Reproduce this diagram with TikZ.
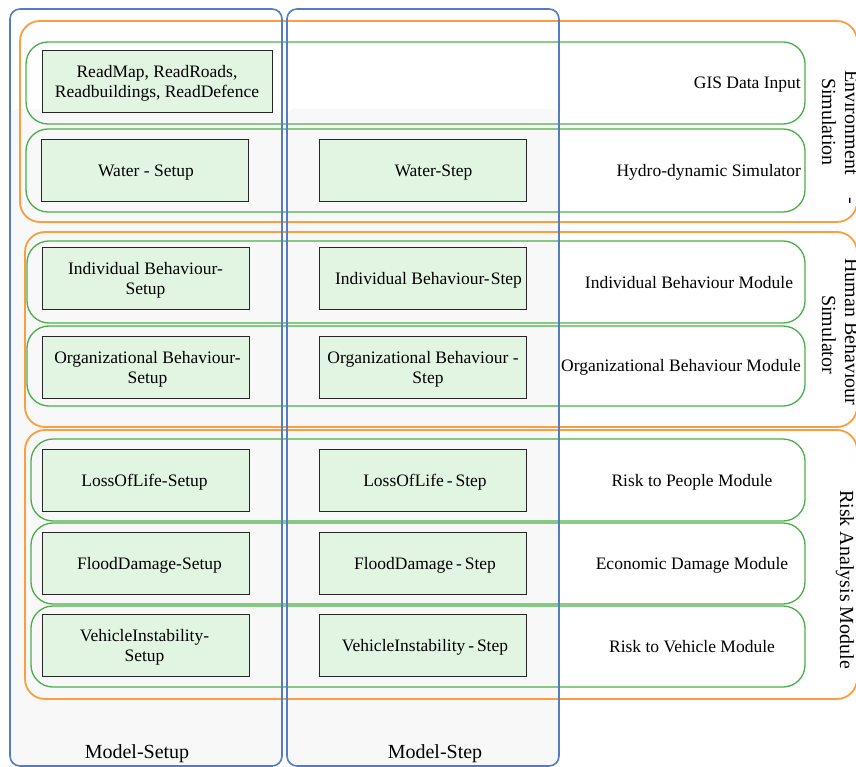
\documentclass[tikz,border=0pt]{standalone}
\usepackage{fontspec}
\setmainfont{Liberation Serif}
\definecolor{colblue}{RGB}{82,124,198}
\definecolor{grporange}{RGB}{250,158,64}
\definecolor{rowgreen}{RGB}{72,176,72}
\definecolor{boxfill}{RGB}{226,245,226}
\definecolor{colgrey}{RGB}{248,248,248}
\begin{document}
\begin{tikzpicture}[x=1pt,y=-1pt,
  bodyfont/.style={font=\fontsize{17.5}{20}\selectfont},
  sidefont/.style={font=\fontsize{20}{23}\selectfont},
  column/.style={draw=colblue,line width=1.6pt,rounded corners=10pt},
  group/.style={draw=grporange,line width=1.8pt,rounded corners=20pt},
  modrow/.style={draw=rowgreen,line width=1.3pt,rounded corners=22pt},
  fnbox/.style={draw=black!85,line width=0.9pt,fill=boxfill,inner sep=0pt,
    minimum width=207pt,minimum height=62pt},
  boxtext/.style={bodyfont,inner sep=0pt,align=center},
  rowlabel/.style={bodyfont,inner sep=0pt},
  sidelabel/.style={sidefont,inner sep=0pt,rotate=-90,anchor=base west},
  collabel/.style={sidefont,inner sep=0pt}]
\useasboundingbox (0,0) rectangle (856,767);

% column backgrounds
\fill[colgrey,rounded corners=8pt] (10,109) rectangle (282,766);
\fill[colgrey,rounded corners=8pt] (287,109) rectangle (559,766);

% module groups
\draw[group] (20,21) rectangle (857,222);
\draw[group] (25,232) rectangle (857,427);
\draw[group] (25,430) rectangle (857,699);

% module rows
\draw[modrow] (26,42) rectangle (805,124);
\draw[modrow] (26,129) rectangle (805,212);
\draw[modrow] (27,241) rectangle (805,323);
\draw[modrow] (27,326) rectangle (805,406);
\draw[modrow] (31,439) rectangle (805,521);
\draw[modrow] (31,523) rectangle (805,604);
\draw[modrow] (31,606) rectangle (805,687);

% setup and step columns
\draw[column] (10,9) rectangle (282,766);
\draw[column] (287,9) rectangle (559,766);

% function boxes
\node[fnbox,minimum width=230pt] (readmap) at (157,81) {};
\node[fnbox] (watersetup) at (144.5,170) {};
\node[fnbox] (waterstep) at (422.5,170) {};
\node[fnbox] (indsetup) at (145.5,278) {};
\node[fnbox] (indstep) at (423,278) {};
\node[fnbox] (orgsetup) at (145.5,367) {};
\node[fnbox] (orgstep) at (423,367) {};
\node[fnbox] (losssetup) at (145.5,480) {};
\node[fnbox] (lossstep) at (423,480) {};
\node[fnbox] (floodsetup) at (145.5,563) {};
\node[fnbox] (floodstep) at (423,563) {};
\node[fnbox] (vehsetup) at (145.5,645) {};
\node[fnbox] (vehstep) at (423,645) {};

% box texts, set slightly below the box centres
\node[boxtext] (readmap-t) at ([yshift=-2.5pt]readmap.center) {ReadMap, ReadRoads,\\Readbuildings, ReadDefence};
\node[boxtext] (watersetup-t) at ([xshift=1.5pt,yshift=-2.5pt]watersetup.center) {Water - Setup};
\node[boxtext] (waterstep-t) at ([xshift=11pt,yshift=-2.5pt]waterstep.center) {Water-Step};
\node[boxtext] (indsetup-t) at ([yshift=-2.5pt]indsetup.center) {Individual Behaviour-\\Setup};
\node[boxtext] (indstep-t) at ([xshift=5.5pt,yshift=-2.5pt]indstep.center) {Individual Behaviour-{\kern1pt}Step};
\node[boxtext] (orgsetup-t) at ([xshift=2pt,yshift=-2.5pt]orgsetup.center) {Organizational Behaviour-\\Setup};
\node[boxtext] (orgstep-t) at ([yshift=-2.5pt]orgstep.center) {Organizational Behaviour -\\\hspace*{10pt}Step};
\node[boxtext] (losssetup-t) at ([xshift=-1pt,yshift=-2.5pt]losssetup.center) {LossOfLife-Setup};
\node[boxtext] (lossstep-t) at ([xshift=2pt,yshift=-2.5pt]lossstep.center) {LossOfLife\,-\,Step};
\node[boxtext] (floodsetup-t) at ([xshift=4pt,yshift=-2.5pt]floodsetup.center) {FloodDamage-Setup};
\node[boxtext] (floodstep-t) at ([xshift=2pt,yshift=-2.5pt]floodstep.center) {FloodDamage\,-\,Step};
\node[boxtext] (vehsetup-t) at ([xshift=-1pt,yshift=-2.5pt]vehsetup.center) {VehicleInstability-\\Setup};
\node[boxtext] (vehstep-t) at ([xshift=2pt,yshift=-2.5pt]vehstep.center) {VehicleInstability\,-\,Step};

% row labels
\node[rowlabel,anchor=east] (gis) at (801,85) {GIS Data Input};
\node[rowlabel,anchor=east] (hydro) at (801,172) {Hydro-dynamic Simulator};
\node[rowlabel] (indmod) at (689,283) {Individual Behaviour Module};
\node[rowlabel] (orgmod) at (681,367) {Organizational Behaviour Module};
\node[rowlabel] (people) at (692,482) {Risk to People Module};
\node[rowlabel] (econ) at (692,565) {Economic Damage Module};
\node[rowlabel] (vehmod) at (692,647) {Risk to Vehicle Module};

% group labels
\node[sidelabel] (envA) at (845,70) {Environment\hspace{23pt}-};
\node[sidelabel] (envB) at (822,78) {Simulation};
\node[sidelabel] (humA) at (845,258) {Human Behaviour};
\node[sidelabel] (humB) at (822,295) {Simulator};
\node[sidelabel] (risk) at (840,490) {Risk Analysis Module};

% column labels
\node[collabel] (modelsetup) at (137,754) {Model-Setup};
\node[collabel] (modelstep) at (435,754) {Model-Step};
\end{tikzpicture}
\end{document}
